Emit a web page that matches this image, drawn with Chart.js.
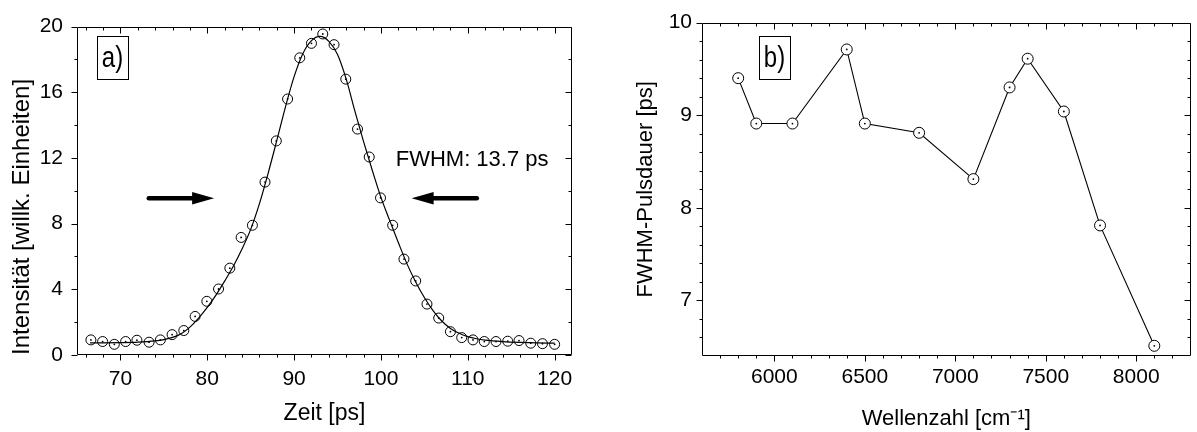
<!DOCTYPE html>
<html>
<head>
<meta charset="utf-8">
<script src="https://cdn.jsdelivr.net/npm/chart.js@4.4.1/dist/chart.umd.min.js"></script>
<style>
html,body{margin:0;padding:0;background:#fff;}
#wrap{position:relative;width:1197px;height:432px;overflow:hidden;background:#fff;}
canvas{position:absolute;top:0;}
#ca{left:0;}
#cb{left:600px;}
</style>
</head>
<body>
<div id="wrap">
<canvas id="ca" width="600" height="432"></canvas>
<canvas id="cb" width="597" height="432"></canvas>
</div>
<script>
// ---- Panel a): measured pulse (time in ps, intensity in arb. units) ----
const timeA = [66.6, 67.95, 69.3, 70.6, 71.9, 73.3, 74.6, 75.95, 77.3, 78.6, 79.95, 81.3, 82.6, 83.9, 85.2, 86.65,
  87.95, 89.25, 90.65, 92.0, 93.3, 94.6, 95.95, 97.3, 98.65, 99.95, 101.35, 102.65, 104.0, 105.3, 106.65, 108.0,
  109.3, 110.6, 111.9, 113.25, 114.6, 115.9, 117.25, 118.6, 120.0];
const intensityA = [0.92, 0.82, 0.65, 0.82, 0.90, 0.78, 0.92, 1.24, 1.49, 2.35, 3.27, 4.02, 5.29, 7.16, 7.90, 10.53,
  13.04, 15.59, 18.1, 18.98, 19.55, 18.9, 16.8, 13.76, 12.06, 9.57, 7.90, 5.84, 4.51, 3.10, 2.25, 1.42,
  1.06, 0.92, 0.82, 0.82, 0.84, 0.88, 0.72, 0.69, 0.65];
// fitted curve
const fitTime = [66.5, 68, 70, 72, 74, 75, 76, 77, 78, 79, 80, 81, 82, 83, 84, 85, 86, 87, 88, 89, 90, 91, 92, 93,
  94, 95, 96, 97, 98, 99, 100, 101, 102, 103, 104, 105, 106, 107, 108, 109, 110, 111, 112, 114, 116, 118, 120];
const fitIntensity = [0.74, 0.74, 0.75, 0.78, 0.86, 0.94, 1.07, 1.30, 1.70, 2.25, 2.90, 3.65, 4.50, 5.40, 6.45, 7.65,
  9.20, 11.05, 13.05, 15.10, 16.95, 18.35, 19.15, 19.40, 19.10, 18.30, 16.80, 14.85, 13.00, 11.25, 9.60, 8.20,
  6.85, 5.55, 4.45, 3.50, 2.70, 2.07, 1.62, 1.32, 1.12, 0.99, 0.91, 0.82, 0.77, 0.74, 0.72];
const xTicksA = [70, 80, 90, 100, 110, 120];
const yTicksA = [0, 4, 8, 12, 16, 20];

// ---- Panel b): FWHM pulse duration vs wavenumber ----
const waveB = [5800, 5900, 6100, 6400, 6500, 6800, 7100, 7300, 7400, 7600, 7800, 8100];
const fwhmB = [9.40, 8.91, 8.91, 9.71, 8.91, 8.81, 8.31, 9.30, 9.61, 9.04, 7.81, 6.51];
const xTicksB = [6000, 6500, 7000, 7500, 8000];
const yTicksB = [7, 8, 9, 10];

const FONT = "'Liberation Sans', Arial, Helvetica, sans-serif";

function steps(start, stop, step, skip) {
  const out = [];
  const n = Math.round((stop - start) / step);
  for (let i = 0; i <= n; i++) {
    const v = +(start + i * step).toFixed(6);
    if (!skip.some(s => Math.abs(s - v) < 1e-6)) out.push(v);
  }
  return out;
}

function drawFrame(chart, cfg) {
  const {ctx, chartArea: a, scales: {x, y}} = chart;
  const L = Math.round(a.left) + 0.5, R = Math.round(a.right) - 0.5;
  const T = Math.round(a.top) + 0.5, B = Math.round(a.bottom) - 0.5;
  ctx.save();
  ctx.strokeStyle = '#000';
  ctx.lineWidth = 1;
  ctx.beginPath();
  ctx.rect(L, T, R - L, B - T);
  const seg = (x1, y1, x2, y2) => { ctx.moveTo(x1, y1); ctx.lineTo(x2, y2); };
  const xt = (vals, len) => vals.forEach(v => {
    const p = Math.round(x.getPixelForValue(v)) + 0.5;
    seg(p, B, p, B + len); seg(p, T, p, T + len);
  });
  const yt = (vals, len) => vals.forEach(v => {
    const p = Math.round(y.getPixelForValue(v)) + 0.5;
    seg(L - len, p, L, p); seg(R - len, p, R, p);
  });
  xt(cfg.xMajor, 6); xt(cfg.xMinor, 3);
  yt(cfg.yMajor, 6); yt(cfg.yMinor, 3);
  ctx.stroke();
  ctx.restore();
}

function panelLabel(ctx, text, x, y, w, h) {
  ctx.save();
  ctx.strokeStyle = '#000';
  ctx.lineWidth = 1;
  ctx.strokeRect(Math.round(x) + 0.5, Math.round(y) + 0.5, w, h);
  ctx.fillStyle = '#000';
  ctx.translate(x + w / 2, y + h / 2 + 1);
  ctx.scale(1, 1.25);
  ctx.font = '24px ' + FONT;
  ctx.textAlign = 'center';
  ctx.textBaseline = 'middle';
  ctx.fillText(text, 0, 0);
  ctx.restore();
}

function arrow(ctx, xTail, xTip, yy) {
  const dir = Math.sign(xTip - xTail);
  const headLen = 22, half = 6.3;
  const xBase = xTip - dir * headLen;
  ctx.save();
  ctx.strokeStyle = '#000';
  ctx.fillStyle = '#000';
  ctx.lineWidth = 4.5;
  ctx.lineCap = 'round';
  ctx.beginPath();
  ctx.moveTo(xTail, yy);
  ctx.lineTo(xBase + dir * 2, yy);
  ctx.stroke();
  ctx.beginPath();
  ctx.moveTo(xBase, yy - half);
  ctx.lineTo(xTip, yy);
  ctx.lineTo(xBase, yy + half);
  ctx.closePath();
  ctx.fill();
  ctx.restore();
}

const tickFont = {family: FONT, size: 21};
const plainNum = v => String(v);

// ---------------- Chart a) ----------------
const decoA = {
  id: 'decoA',
  afterDraw(chart) {
    drawFrame(chart, {
      xMajor: xTicksA, xMinor: steps(66, 120, 2, xTicksA),
      yMajor: yTicksA, yMinor: steps(2, 18, 2, yTicksA)
    });
    const {ctx, scales: {x, y}} = chart;
    panelLabel(ctx, 'a)', 97, 36, 31, 43);
    const yy = y.getPixelForValue(9.55);
    arrow(ctx, x.getPixelForValue(73.27), x.getPixelForValue(80.79), yy);
    arrow(ctx, x.getPixelForValue(111.04), x.getPixelForValue(103.53), yy);
    ctx.save();
    ctx.fillStyle = '#000';
    ctx.font = '22px ' + FONT;
    ctx.textAlign = 'left';
    ctx.textBaseline = 'alphabetic';
    ctx.fillText('FWHM: 13.7 ps', x.getPixelForValue(101.7), y.getPixelForValue(11.52));
    ctx.restore();
  }
};

new Chart(document.getElementById('ca'), {
  type: 'scatter',
  data: {
    datasets: [
      {
        label: 'Fit',
        data: fitTime.map((t, i) => ({x: t, y: fitIntensity[i]})),
        showLine: true,
        borderColor: '#000',
        borderWidth: 1.2,
        pointRadius: 0,
        cubicInterpolationMode: 'monotone',
        fill: false,
        order: 3
      },
      {
        label: 'Messung',
        data: timeA.map((t, i) => ({x: t, y: intensityA[i]})),
        showLine: false,
        pointRadius: 5,
        pointBorderWidth: 1,
        pointBorderColor: '#000',
        pointBackgroundColor: 'rgba(0,0,0,0)',
        order: 2
      },
      {
        label: 'Messung (Mitte)',
        data: timeA.map((t, i) => ({x: t, y: intensityA[i]})),
        showLine: false,
        pointRadius: 0.9,
        pointBorderWidth: 0,
        pointBackgroundColor: '#000',
        order: 1
      }
    ]
  },
  options: {
    responsive: false,
    animation: false,
    events: [],
    layout: {padding: {left: 0, right: 28, top: 15, bottom: 0}},
    plugins: {legend: {display: false}, tooltip: {enabled: false}},
    scales: {
      x: {
        type: 'linear', min: 65, max: 122,
        afterBuildTicks: s => { s.ticks = xTicksA.map(v => ({value: v})); },
        afterFit: s => { s.height = 77; },
        grid: {display: false, drawTicks: false},
        border: {display: false},
        ticks: {font: tickFont, color: '#000', padding: 12, maxRotation: 0, callback: plainNum},
        title: {display: true, text: 'Zeit [ps]', color: '#000', font: {family: FONT, size: 23}, padding: {top: 0, bottom: 5}}
      },
      y: {
        type: 'linear', min: 0, max: 20,
        afterBuildTicks: s => { s.ticks = yTicksA.map(v => ({value: v})); },
        afterFit: s => { s.width = 77; },
        grid: {display: false, drawTicks: false},
        border: {display: false},
        ticks: {font: tickFont, color: '#000', padding: 14, callback: plainNum},
        title: {display: true, text: 'Intensität [willk. Einheiten]', align: 'start', color: '#000', font: {family: FONT, size: 24}, padding: {top: 8, bottom: 0}}
      }
    }
  },
  plugins: [decoA]
});

// ---------------- Chart b) ----------------
const decoB = {
  id: 'decoB',
  afterDraw(chart) {
    drawFrame(chart, {
      xMajor: xTicksB, xMinor: steps(5700, 8200, 100, xTicksB),
      yMajor: yTicksB, yMinor: steps(6.6, 9.8, 0.2, yTicksB)
    });
    panelLabel(chart.ctx, 'b)', 159, 36, 31, 43);
  }
};

new Chart(document.getElementById('cb'), {
  type: 'scatter',
  data: {
    datasets: [
      {
        label: 'FWHM',
        data: waveB.map((w, i) => ({x: w, y: fwhmB[i]})),
        showLine: true,
        borderColor: '#000',
        borderWidth: 1.1,
        pointRadius: 5.5,
        pointBorderWidth: 1,
        pointBorderColor: '#000',
        pointBackgroundColor: '#fff',
        clip: false,
        order: 2
      },
      {
        label: 'FWHM (Mitte)',
        data: waveB.map((w, i) => ({x: w, y: fwhmB[i]})),
        showLine: false,
        pointRadius: 0.9,
        pointBorderWidth: 0,
        pointBackgroundColor: '#000',
        clip: false,
        order: 1
      }
    ]
  },
  options: {
    responsive: false,
    animation: false,
    events: [],
    layout: {padding: {left: 0, right: 1, top: 15, bottom: 0}},
    plugins: {legend: {display: false}, tooltip: {enabled: false}},
    scales: {
      x: {
        type: 'linear', min: 5600, max: 8300,
        afterBuildTicks: s => { s.ticks = xTicksB.map(v => ({value: v})); },
        afterFit: s => { s.height = 76; },
        grid: {display: false, drawTicks: false},
        border: {display: false},
        ticks: {font: tickFont, color: '#000', padding: 9, maxRotation: 0, callback: plainNum},
        title: {display: true, text: 'Wellenzahl [cm⁻¹]', color: '#000', font: {family: FONT, size: 22}, padding: {top: 0, bottom: 0}}
      },
      y: {
        type: 'linear', min: 6.4, max: 10,
        afterBuildTicks: s => { s.ticks = yTicksB.map(v => ({value: v})); },
        afterFit: s => { s.width = 102; },
        grid: {display: false, drawTicks: false},
        border: {display: false},
        ticks: {font: tickFont, color: '#000', padding: 10, callback: plainNum},
        title: {display: true, text: 'FWHM-Pulsdauer [ps]', color: '#000', font: {family: FONT, size: 22}, padding: {top: 33, bottom: 0}}
      }
    }
  },
  plugins: [decoB]
});
</script>
</body>
</html>
